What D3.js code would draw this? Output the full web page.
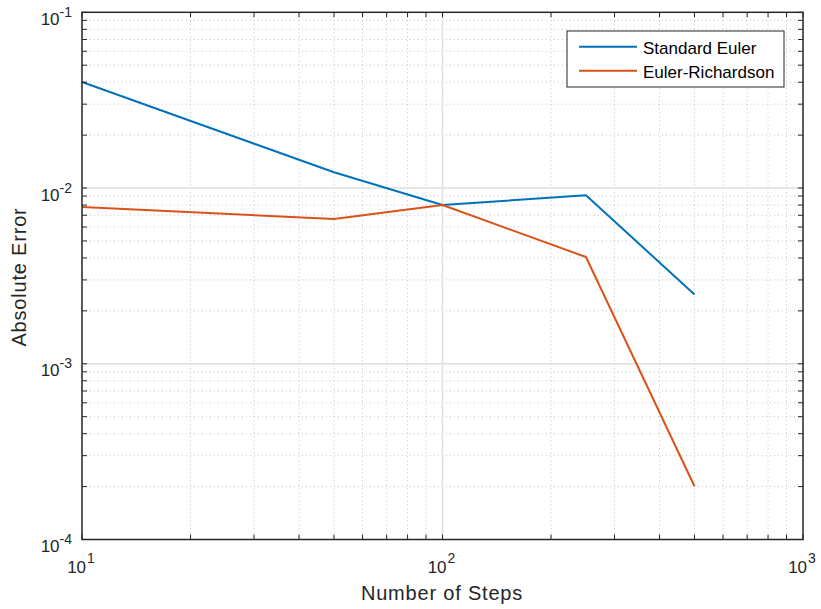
<!DOCTYPE html>
<html><head><meta charset="utf-8">
<script src="https://cdn.jsdelivr.net/npm/d3@7"></script>
<style>body{margin:0;background:#fff}svg{display:block;font-family:"Liberation Sans",Arial,sans-serif}</style>
</head><body><svg id="c" width="821" height="609"></svg>
<script>
const steps = [10, 50, 100, 250, 500];
const eulerErr = [0.0401, 0.0123, 0.0080, 0.0091, 0.00248];
const richErr = [0.0078, 0.00667, 0.0080, 0.00405, 0.000201];
const seriesNames = ["Standard Euler", "Euler-Richardson"];
const seriesColors = ["#0072BD", "#D95319"];
const xMajor = [1, 2, 3];
const yMajor = [-1, -2, -3, -4];

const svg = d3.select("#c");
const L = 82, R = 803, T = 12.3, B = 539.5;
const x = d3.scaleLog().domain([10, 1000]).range([L, R]);
const y = d3.scaleLog().domain([1e-4, 1e-1]).range([B, T]);

const xMinor = [], yMinor = [];
for (let d = 10; d < 1000; d *= 10) for (let k = 2; k <= 9; k++) xMinor.push(d * k);
for (let d = 1e-4; d < 0.099; d *= 10) for (let k = 2; k <= 9; k++) yMinor.push(d * k);

const g = svg.append("g");
g.selectAll(".mx").data(xMinor).enter().append("line")
  .attr("x1", d => x(d)).attr("x2", d => x(d)).attr("y1", T).attr("y2", B)
  .attr("stroke", "#c4c4c4").attr("stroke-width", 1).attr("stroke-dasharray", "1,3");
g.selectAll(".my").data(yMinor).enter().append("line")
  .attr("y1", d => y(d)).attr("y2", d => y(d)).attr("x1", L).attr("x2", R)
  .attr("stroke", "#c4c4c4").attr("stroke-width", 1).attr("stroke-dasharray", "1,3");
g.selectAll(".gx").data([100]).enter().append("line")
  .attr("x1", d => x(d)).attr("x2", d => x(d)).attr("y1", T).attr("y2", B)
  .attr("stroke", "#dfdfdf").attr("stroke-width", 1.5);
g.selectAll(".gy").data([1e-2, 1e-3]).enter().append("line")
  .attr("y1", d => y(d)).attr("y2", d => y(d)).attr("x1", L).attr("x2", R)
  .attr("stroke", "#dfdfdf").attr("stroke-width", 1.5);

const line = d3.line().x(d => x(d[0])).y(d => y(d[1]));
[eulerErr, richErr].forEach((vals, i) => {
  svg.append("path").datum(steps.map((s, j) => [s, vals[j]]))
    .attr("d", line).attr("fill", "none").attr("stroke", seriesColors[i])
    .attr("stroke-width", 2).attr("stroke-linejoin", "round");
});

const ax = svg.append("g").attr("stroke", "#262626").attr("stroke-width", 1);
const xt = xMinor.concat([10, 100, 1000]);
const yt = yMinor.concat([1e-4, 1e-3, 1e-2, 1e-1]);
xt.forEach(v => {
  ax.append("line").attr("x1", x(v)).attr("x2", x(v)).attr("y1", B).attr("y2", B - 5);
  ax.append("line").attr("x1", x(v)).attr("x2", x(v)).attr("y1", T).attr("y2", T + 5);
});
yt.forEach(v => {
  ax.append("line").attr("y1", y(v)).attr("y2", y(v)).attr("x1", L).attr("x2", L + 5);
  ax.append("line").attr("y1", y(v)).attr("y2", y(v)).attr("x1", R).attr("x2", R - 5);
});
svg.append("rect").attr("x", L).attr("y", T).attr("width", R - L).attr("height", B - T)
  .attr("fill", "none").attr("stroke", "#262626").attr("stroke-width", 1.5);

xMajor.forEach(e => {
  const t = svg.append("text").attr("x", x(Math.pow(10, e)) - 1).attr("y", B + 33.5)
    .attr("text-anchor", "middle").attr("fill", "#262626").attr("font-size", 17);
  t.append("tspan").text("10");
  t.append("tspan").attr("dy", -10.5).attr("dx", 1).attr("font-size", 14).text(String(e));
});
yMajor.forEach(e => {
  const t = svg.append("text").attr("x", 72).attr("y", y(Math.pow(10, e)) + 12.5)
    .attr("text-anchor", "end").attr("fill", "#262626").attr("font-size", 17);
  t.append("tspan").text("10");
  t.append("tspan").attr("dy", -8).attr("font-size", 14).text(String(e));
});

svg.append("text").attr("x", 442).attr("y", 600).attr("text-anchor", "middle")
  .attr("font-size", 20).attr("letter-spacing", 0.8).attr("fill", "#262626").text("Number of Steps");
svg.append("text").attr("transform", `translate(26,277) rotate(-90)`)
  .attr("text-anchor", "middle").attr("font-size", 20).attr("letter-spacing", 0.8)
  .attr("fill", "#262626").text("Absolute Error");

const lg = svg.append("g");
lg.append("rect").attr("x", 567).attr("y", 31).attr("width", 217).attr("height", 56)
  .attr("fill", "#fff").attr("stroke", "#262626").attr("stroke-width", 1);
seriesNames.forEach((n, i) => {
  const yy = 46.7 + i * 24;
  lg.append("line").attr("x1", 579).attr("x2", 637).attr("y1", yy).attr("y2", yy)
    .attr("stroke", seriesColors[i]).attr("stroke-width", 2);
  lg.append("text").attr("x", 643).attr("y", yy + 7.5).attr("font-size", 17).attr("fill", "#000").text(n);
});
</script></body></html>
